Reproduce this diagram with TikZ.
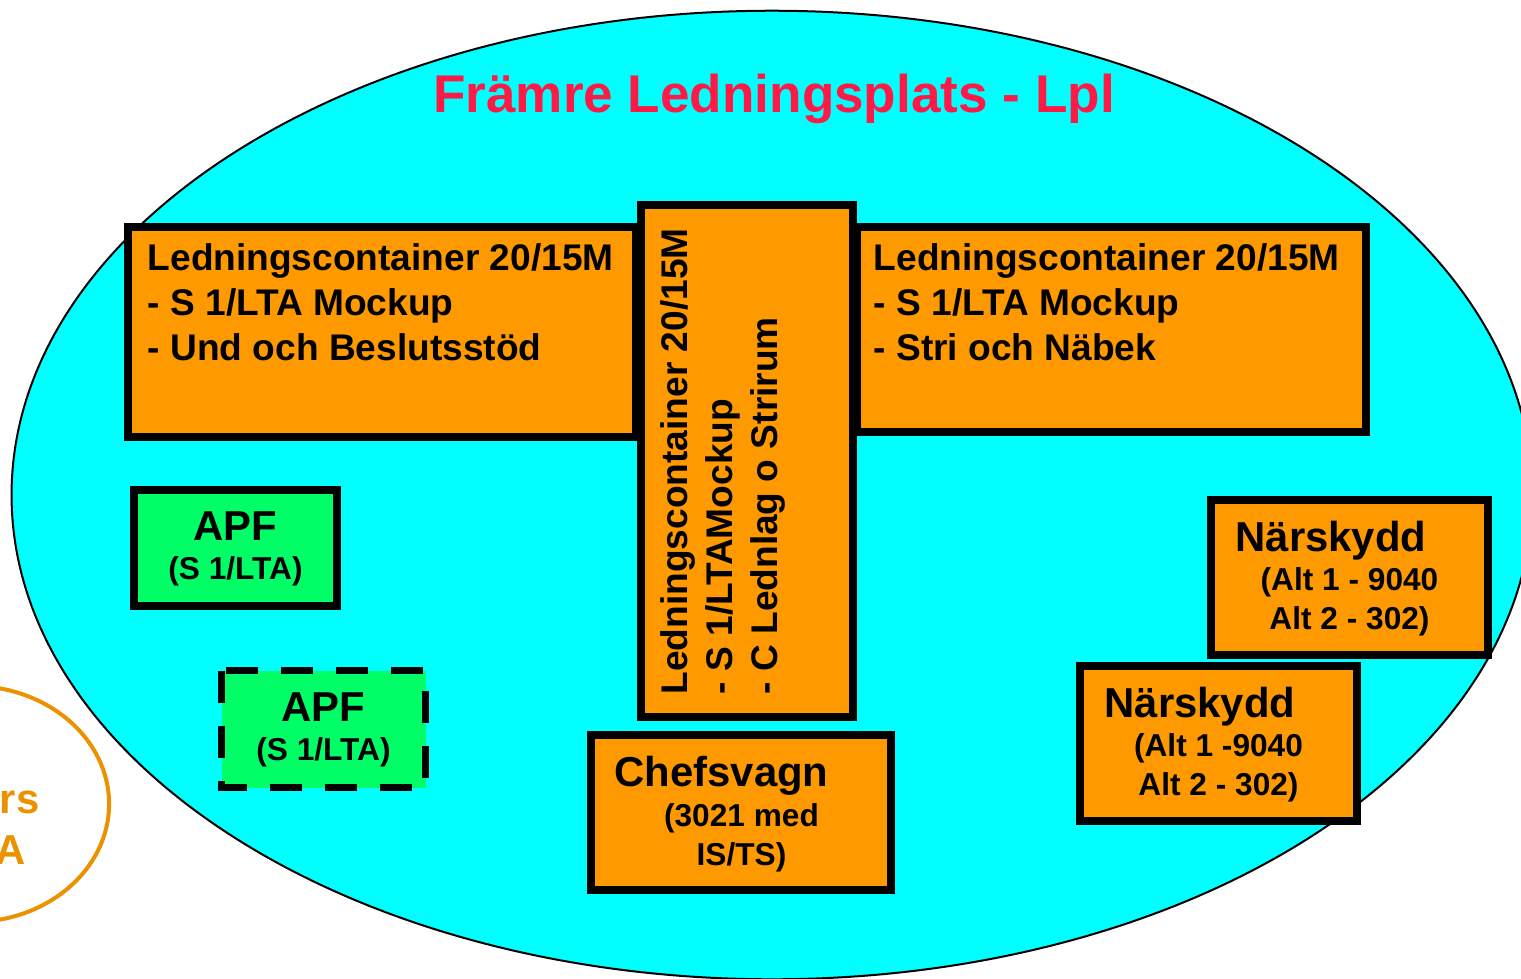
\documentclass[tikz,border=0pt]{standalone}
\usepackage{fontspec}
\setmainfont{Liberation Sans}
\usepackage{tikz}
\definecolor{C}{RGB}{0, 255, 255}
\definecolor{O}{RGB}{255, 153, 0}
\definecolor{G}{RGB}{0, 255, 102}
\definecolor{R}{RGB}{255, 25, 70}
\definecolor{Y}{RGB}{236, 145, 0}

\begin{document}
\begin{tikzpicture}[x=0.01cm, y=-0.01cm,
  box/.style={draw=black, line width=0.08cm, fill=O},
  apfbox/.style={draw=black, line width=0.08cm, fill=G},
  txt/.style={inner sep=0pt, align=left, font=\fontsize{10.55}{12.66}\selectfont\bfseries},
  big/.style={inner sep=0pt, font=\fontsize{11.9}{14.3}\selectfont\bfseries},
  small/.style={inner sep=0pt, align=center, font=\fontsize{9}{10.9}\selectfont\bfseries}]
  \useasboundingbox (0,0) rectangle (1521,978);
  % Lpl
  \fill[C] (772,495) ellipse (7.6cm and 4.84cm);
  \draw[black, line width=0.02cm] (772,495) ellipse (7.6cm and 4.84cm);
  \node[anchor=base, inner sep=0pt, text=R, font=\fontsize{15.1}{18}\selectfont\bfseries] (title) at (774,112) {Främre Ledningsplats - Lpl};
  % left ellipse
  \draw[Y, line width=0.04cm] (-28,804) ellipse (1.37cm and 1.18cm);
  \node[big, text=Y, anchor=base east] (lrs) at (40,813) {rs};
  \node[big, text=Y, anchor=base east] (la) at (26,864) {A};
  % containers
  \draw[box] (128,227) rectangle (636,437);
  \draw[box] (857,227) rectangle (1366,432);
  \draw[box] (641,205) rectangle (853,717);
  \node[txt, anchor=base west] (lcL) at (147,360) {Ledningscontainer 20/15M\\- S 1/LTA Mockup\\- Und och Beslutsstöd};
  \node[txt, anchor=base west] (lcR) at (873,360) {Ledningscontainer 20/15M\\- S 1/LTA Mockup\\- Stri och Näbek};
  \node[txt, anchor=base west, rotate=90] (lcM) at (777,695) {Ledningscontainer 20/15M\\- S 1/LTAMockup\\- C Lednlag o Strirum};
  % APF
  \draw[apfbox] (134,490) rectangle (337,606);
  \node[big, anchor=base] (apf1) at (235.5,540) {APF};
  \node[small, anchor=base] (apf1s) at (235.5,579) {(S 1/LTA)};
  \fill[G] (221.5,670.5) rectangle (425.5,787.5);
  \draw[black, line width=0.07cm, dash pattern=on 0.32cm off 0.23cm] (221.5,670.5) rectangle (425.5,787.5);
  \node[big, anchor=base] (apf2) at (323.5,721) {APF};
  \node[small, anchor=base] (apf2s) at (323.5,760) {(S 1/LTA)};
  % Chefsvagn
  \draw[box] (591,735) rectangle (891,890);
  \node[big, anchor=base] (chef) at (721.5,786) {Chefsvagn};
  \node[small, anchor=base] (chefs) at (741.5,865) {(3021 med\\IS/TS)};
  % Narskydd
  \draw[box] (1211,500) rectangle (1488,655);
  \node[big, anchor=base] (nar1) at (1331,551) {Närskydd};
  \node[small, anchor=base] (nar1s) at (1349.5,629) {(Alt 1 - 9040\\Alt 2 - 302)};
  \draw[box] (1080,666) rectangle (1357,821);
  \node[big, anchor=base] (nar2) at (1200,717) {Närskydd};
  \node[small, anchor=base] (nar2s) at (1218.5,795) {(Alt 1 -9040\\Alt 2 - 302)};
\end{tikzpicture}
\end{document}
